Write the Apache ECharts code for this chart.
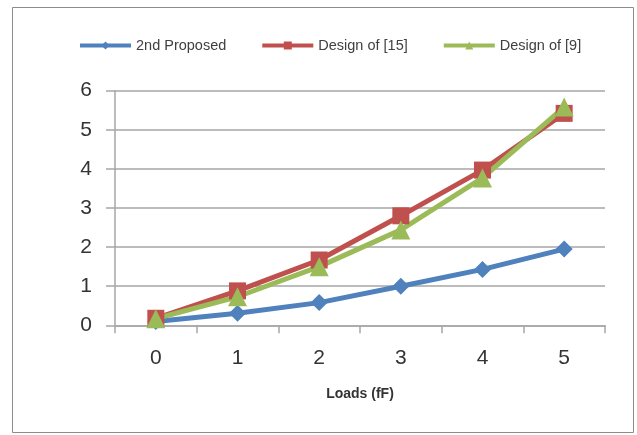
<!DOCTYPE html>
<html>
<head>
<meta charset="utf-8">
<script src="https://cdn.jsdelivr.net/npm/echarts@6/dist/echarts.min.js"></script>
<style>html,body{margin:0;padding:0;background:#fff;}#c{width:637px;height:435px;}</style>
</head>
<body>
<div id="c"></div>
<script>
var categories = ['0', '1', '2', '3', '4', '5'];
var proposed2 = [0.1, 0.31, 0.58, 1.0, 1.43, 1.95];
var design15 = [0.18, 0.88, 1.67, 2.8, 3.97, 5.42];
var design9 = [0.17, 0.73, 1.5, 2.44, 3.77, 5.58];
var seriesNames = ['2nd Proposed', 'Design of [15]', 'Design of [9]'];

var chart = echarts.init(document.getElementById('c'));
var font = '"Liberation Sans", Arial, sans-serif';
function mk(name, data, color, symbol, size) {
  return {
    name: name, type: 'line', data: data,
    symbol: symbol, symbolSize: size, showSymbol: true,
    lineStyle: { color: color, width: 5 },
    itemStyle: { color: color },
    emphasis: { disabled: true },
    animation: false
  };
}
chart.setOption({
  animation: false,
  graphic: [{
    type: 'rect', shape: { x: 12.5, y: 7.5, width: 621, height: 425 },
    style: { fill: 'none', stroke: '#8c8c8c', lineWidth: 1 }, z: -1
  }],
  legend: {
    left: 73, top: 33, itemWidth: 51, itemHeight: 10, itemGap: 34,
    lineStyle: { width: 4 },
    textStyle: { fontFamily: font, fontSize: 14.5, color: '#404040' },
    data: seriesNames
  },
  grid: { left: 115, right: 32, top: 90.7, bottom: 109.7, containLabel: false },
  xAxis: {
    type: 'category', data: categories, boundaryGap: true,
    name: 'Loads (fF)', nameLocation: 'middle', nameGap: 62,
    nameTextStyle: { fontFamily: font, fontSize: 14, fontWeight: 'bold', color: '#333333' },
    axisLine: { lineStyle: { color: '#a6a6a6', width: 1.5 } },
    axisTick: { show: true, length: 8, alignWithLabel: false, lineStyle: { color: '#a6a6a6', width: 1.5 } },
    axisLabel: { margin: 22, fontFamily: font, fontSize: 21, color: '#333333' },
    splitLine: { show: false }
  },
  yAxis: {
    type: 'value', min: 0, max: 6, interval: 1,
    axisLine: { show: true, lineStyle: { color: '#a6a6a6', width: 1.5 } },
    axisTick: { show: true, length: 9, lineStyle: { color: '#a6a6a6', width: 1.5 } },
    axisLabel: { margin: 23, fontFamily: font, fontSize: 21, color: '#333333' },
    splitLine: { show: true, lineStyle: { color: '#a6a6a6', width: 1.5 } }
  },
  series: [
    mk(seriesNames[0], proposed2, '#4f81bd', 'diamond', 17),
    mk(seriesNames[1], design15, '#c0504d', 'rect', 17),
    mk(seriesNames[2], design9, '#9bbb59', 'triangle', 19)
  ]
});
</script>
</body>
</html>
